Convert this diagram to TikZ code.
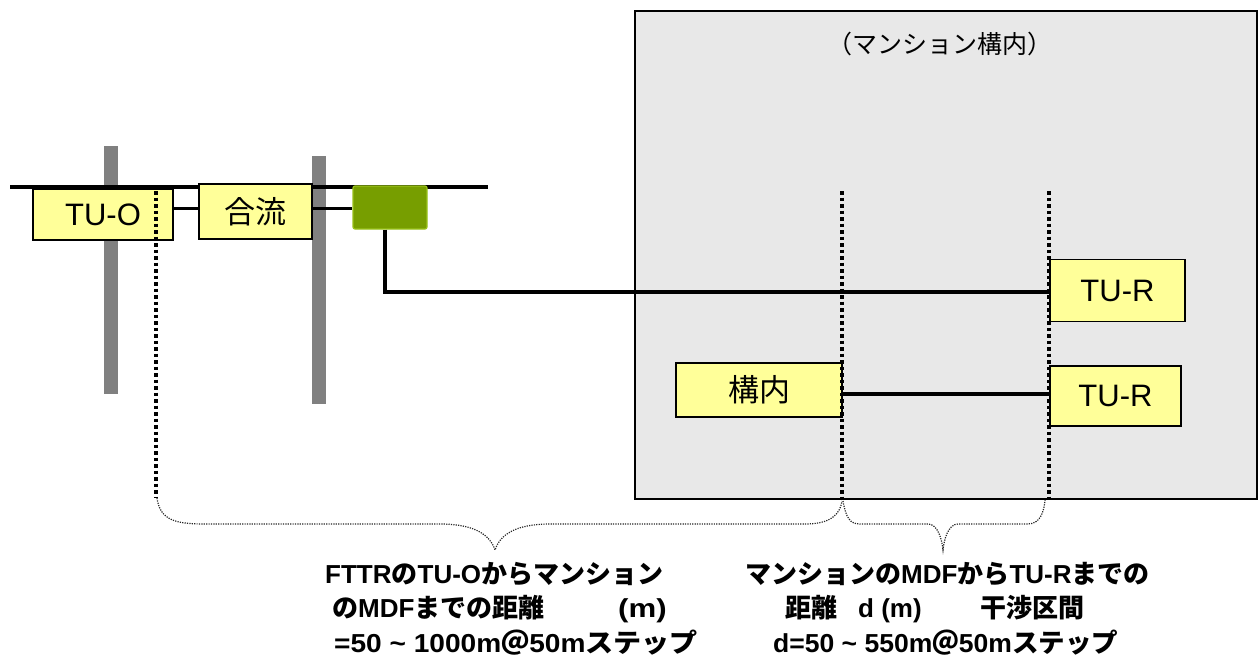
\documentclass[tikz,border=0pt]{standalone}
\usepackage{fontspec}
\setmainfont{Liberation Sans}
\newfontfamily\jp{Noto Sans CJK JP}
\newcommand\J[1]{{\jp #1}}
\definecolor{boxyellow}{HTML}{FFFF99}
\definecolor{areagrey}{HTML}{E8E8E8}
\definecolor{polegrey}{HTML}{808080}
\definecolor{olive}{HTML}{779E00}
\definecolor{olivedge}{HTML}{99C21A}
\tikzset{
  ybox/.style={draw=black, line width=1.2pt, fill=boxyellow, inner sep=0pt,
    font=\fontsize{31}{36}\selectfont},
  pole/.style={fill=polegrey, draw=none},
  cable/.style={draw=black, line width=4pt},
  thincable/.style={draw=black, line width=3pt},
  bound/.style={draw=black, line width=3.5pt, dash pattern=on 3.5pt off 3pt},
  bracepath/.style={draw=black!85, line width=1.2pt, dash pattern=on 1.2pt off 1.2pt},
  caption/.style={anchor=base west, inner sep=0pt, font=\bfseries\fontsize{26}{34}\selectfont},
}
\begin{document}
\begin{tikzpicture}[x=1pt,y=-1pt]
\useasboundingbox (0,0) rectangle (1260,664);
% premises area
\node[draw=black, line width=1.8pt, fill=areagrey, minimum width=622pt, minimum height=488pt, inner sep=0pt, anchor=north west] (area) at (634,10) {};
\node[font=\fontsize{25}{30}\selectfont] (title) at (940,44) {\J{（マンション構内）}};
% poles
\node[pole, minimum width=14pt, minimum height=248pt, inner sep=0pt] (pole1) at (111,270) {};
\node[pole, minimum width=14pt, minimum height=248pt, inner sep=0pt] (pole2) at (319,280) {};
% aerial line
\coordinate (wireL) at (10,187);
\coordinate (wireR) at (488,187);
\draw[cable] (wireL) -- (wireR);
% boxes
\node[ybox, minimum width=140pt, minimum height=51pt] (tuo) at (103,214.5) {TU-O};
\node[ybox, minimum width=113pt, minimum height=55pt] (merge) at (255.5,211.5) {\J{合流}};
\node[draw=olivedge, line width=1.2pt, fill=olive, rounded corners=2pt, minimum width=74pt, minimum height=43pt, inner sep=0pt] (mdf) at (390,207.5) {};
\node[ybox, minimum width=135pt, minimum height=62pt] (tur1) at (1117.5,290.5) {TU-R};
\node[ybox, minimum width=166pt, minimum height=54pt] (kounai) at (759,390) {\J{構内}};
\node[ybox, minimum width=131pt, minimum height=60pt] (tur2) at (1115.5,396) {TU-R};
% connectors
\draw[thincable] (tuo.east |- 0,208) -- (merge.west |- 0,208);
\draw[thincable] (merge.east |- 0,208) -- (mdf.west |- 0,208);
\coordinate (bend) at (384.5,292);
\draw[cable] (mdf.south -| bend) -- (bend) -- (tur1.west |- bend);
\draw[cable] (kounai.east |- 0,394) -- (tur2.west |- 0,394);
% boundary dotted lines
\coordinate (b0t) at (156,191);
\coordinate (b0b) at (156,497);
\coordinate (b1t) at (842,191);
\coordinate (b1b) at (842,500);
\coordinate (b2t) at (1049,191);
\coordinate (b2b) at (1049,500);
\draw[bound] (b0t) -- (b0b);
\draw[bound] (b1t) -- (b1b);
\draw[bound] (b2t) -- (b2b);
% braces
\draw[bracepath] (157,498) .. controls (160,520) and (175,524) .. (205,524) -- (440,524)
  .. controls (475,524) and (490,535) .. (495,550)
  .. controls (500,535) and (515,524) .. (550,524) -- (805,524)
  .. controls (830,524) and (840,515) .. (842,501);
\draw[bracepath] (843,501) .. controls (846,518) and (850,524) .. (860,524) -- (928,524)
  .. controls (938,524) and (942,540) .. (943,550)
  .. controls (944,540) and (948,524) .. (958,524) -- (1028,524)
  .. controls (1040,524) and (1044,512) .. (1045,500);
% captions
\node[caption] (l1) at (325,583) {FTTR\J{の}TU-O\J{からマンション}};
\node[caption] (l2) at (332,617) {\makebox[286pt][l]{\J{の}MDF\J{までの距離}}\scalebox{1.2}[1]{(m)}};
\node[caption] (l3) at (334,652) {\scalebox{1.08}[1]{=50 \textasciitilde{} 1000m\J{＠}50m\J{ステップ}}};
\node[caption] (r1) at (745,583) {\J{マンションの}MDF\J{から}TU-R\J{までの}};
\node[caption] (r2) at (785,617) {\makebox[73pt][l]{\J{距離}}\makebox[122pt][l]{d (m)}\J{干渉区間}};
\node[caption] (r3) at (773,652) {\scalebox{1.02}[1]{d=50 \textasciitilde{} 550m\J{＠}50m\J{ステップ}}};
\end{tikzpicture}
\end{document}
